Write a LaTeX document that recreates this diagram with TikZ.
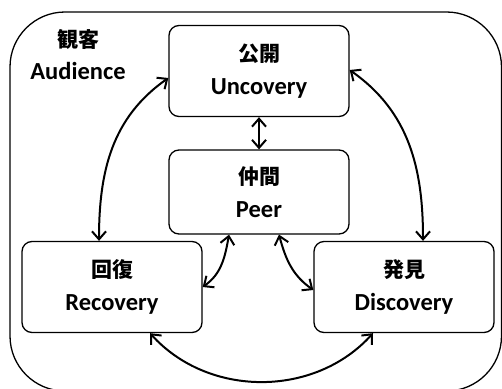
\documentclass[tikz,border=0pt]{standalone}
\usepackage{fontspec}
\setmainfont{Carlito}
\newfontfamily\cjk{Noto Sans CJK JP}
\newcommand{\jp}[1]{{\cjk\fontsize{21}{21}\selectfont #1}}
\usetikzlibrary{arrows.meta}

\begin{document}
\begin{tikzpicture}[x=1pt,y=1pt,
    stage/.style={draw,rounded corners=10pt,line width=1.3pt,minimum width=180pt,minimum height=91pt,align=center,font=\fontsize{24.5}{33}\selectfont\bfseries},
    link/.style={{Straight Barb[length=8pt,width=14pt]}-{Straight Barb[length=8pt,width=14pt]},line width=2pt}]
    \useasboundingbox (0,0) rectangle (502,-388);
    \clip (0,0) rectangle (502,-388);
    \draw[line width=1.3pt,rounded corners=55pt] (10,-12) rectangle (501.5,-391);

    \node[align=center,font=\fontsize{24.5}{32}\selectfont\bfseries] (aud) at (78,-55) {\jp{観客}\\Audience};
    \node[stage] (unc) at (259,-71) {\jp{公開}\\Uncovery};
    \node[stage,minimum height=84pt] (peer) at (259,-192) {\jp{仲間}\\Peer};
    \node[stage] (rec) at (112,-287) {\jp{回復}\\Recovery};
    \node[stage] (disc) at (404,-287) {\jp{発見}\\Discovery};

    \draw[link] (unc.south) -- (peer.north);
    \draw[link] ([xshift=-13pt]rec.north) to[out=90,in=215] ([yshift=-7pt]unc.west);
    \draw[link] ([xshift=19pt]disc.north) to[out=90,in=-35] ([yshift=1pt]unc.east);
    \draw[link] ([xshift=-30pt]peer.south) to[out=-100,in=35] (rec.east);
    \draw[link] ([xshift=20pt]peer.south) to[out=-75,in=145] ([yshift=-3pt]disc.west);
    \draw[link] ([xshift=38pt]rec.south) to[out=-48,in=-132] ([xshift=-31pt]disc.south);
\end{tikzpicture}
\end{document}
